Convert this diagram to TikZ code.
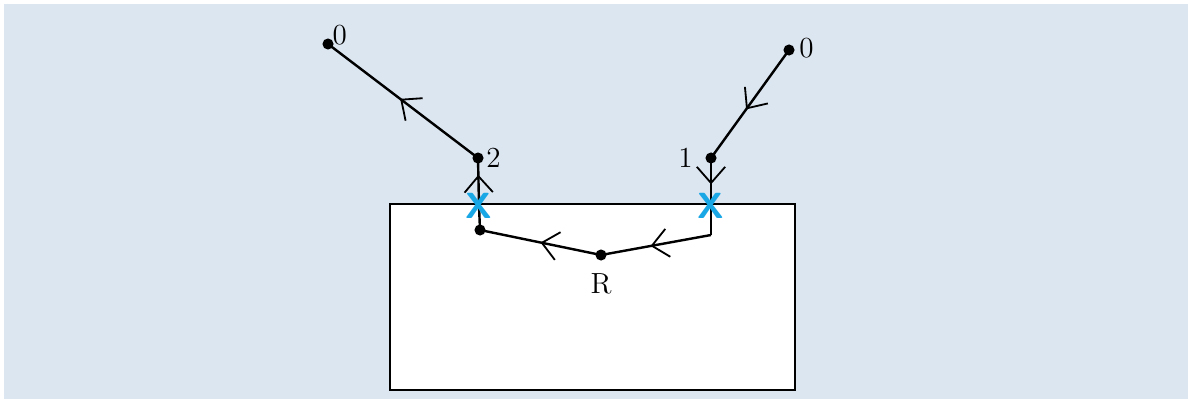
\documentclass[tikz,border=0pt]{standalone}
\usepackage{tikz}
\usetikzlibrary{arrows.meta, decorations.markings}
\definecolor{bgblue}{HTML}{DCE6F1}
\definecolor{cutcyan}{HTML}{1AA7E6}
\tikzstyle{dot} = [circle, fill=black, inner sep=0pt, minimum size=5.5pt]
\tikzstyle{cut} = [text=cutcyan, font=\fontsize{18}{18}\selectfont\sffamily\bfseries, inner sep=0pt]
\tikzstyle{lbl} = [font=\Large]
\tikzstyle{wire} = [line width=1.2pt]
\tikzset{midarrow/.style={wire, postaction={decorate},
  decoration={markings, mark=at position #1 with {\arrow{Straight Barb[length=8pt, width=14pt, line width=0.9pt]}}}}}

\begin{document}
\begin{tikzpicture}[x=0.0174cm, y=-0.0174cm]

        % --- Fondo y region ---
        \useasboundingbox (0,0) rectangle (1188,399);
        \fill[bgblue] (4,4) rectangle (1188,399);
        \draw[wire, fill=white] (390,204) rectangle (795,390);

        % --- Definición de nodos ---
        \node (oL) [dot] at (328,44) {};
        \node (two) [dot] at (478,158) {};
        \node (inL) [dot] at (480,230) {};
        \node (R) [dot] at (601,255) {};
        \coordinate (inR) at (711,235);
        \node (one) [dot] at (711,158) {};
        \node (oR) [dot] at (789,50) {};

        \coordinate (xL) at (479,206);
        \coordinate (xR) at (711,206);

        % --- Etiquetas ---
        \node [lbl, anchor=south west, inner sep=0pt] at ([yshift=-3pt]oL.north east) {0};
        \node [lbl, anchor=west, inner sep=1pt] at (two.east) {2};
        \node [lbl, anchor=east, inner sep=6pt] at (one.west) {1};
        \node [lbl, anchor=south west, inner sep=2pt] at ([yshift=-6pt]oR.east) {0};
        \node [lbl, anchor=north, inner sep=6pt] at (R.south) {R};

        % --- Conexiones ---
        \draw [midarrow=0.55] (oR.center) -- (one.center);
        \draw [midarrow=0.55] (one.center) -- (xR);
        \draw [wire] (xR) -- (inR);
        \draw [midarrow=0.55] (inR) -- (R.center);
        \draw [midarrow=0.5] (R.center) -- (inL.center);
        \draw [wire] (inL.center) -- (xL);
        \draw [midarrow=0.65] (xL) -- (two.center);
        \draw [midarrow=0.52] (two.center) -- (oL.center);

        % marcas de corte encima
        \node (cutL) [cut] at (xL) {X};
        \node (cutR) [cut] at (xR) {X};

    \end{tikzpicture}
\end{document}
